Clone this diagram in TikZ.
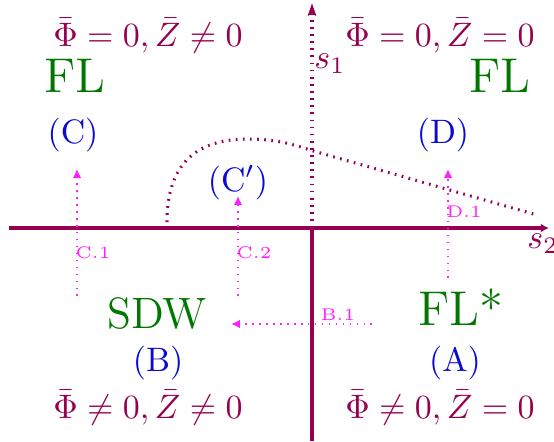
\documentclass[tikz,border=0pt]{standalone}
\usetikzlibrary{arrows.meta}
\definecolor{axiscol}{RGB}{150,0,80}
\definecolor{flgreen}{RGB}{0,120,0}
\definecolor{lblue}{RGB}{10,10,210}
\definecolor{pmag}{RGB}{255,30,255}
\tikzset{
  axisline/.style={draw=axiscol, line width=1.2pt},
  axisdot/.style={draw=axiscol, line width=0.9pt, dash pattern=on 0.5pt off 1.6pt},
  patharrow/.style={draw=pmag, line width=0.75pt, dash pattern=on 0.45pt off 1.6pt, -{Latex[length=2.6pt,width=2.5pt]}},
  phase/.style={text=axiscol, anchor=base, inner sep=0pt},
  bigname/.style={text=flgreen, font=\Large, anchor=base, inner sep=0pt},
  region/.style={text=lblue, anchor=base, inner sep=0pt},
  plabel/.style={text=pmag, font=\tiny, anchor=base, inner sep=0pt},
  axlabel/.style={text=axiscol, anchor=base, inner sep=0pt}
}
\begin{document}
\begin{tikzpicture}[x=0.295pt,y=-0.295pt]
\useasboundingbox (0,0) rectangle (554,441);
% axes
\coordinate (O) at (312,228);
\coordinate (xl) at (9,228);
\coordinate (xr) at (549,228);
\coordinate (yb) at (312,441);
\coordinate (yt) at (312,5);
\draw[axisline, -{Latex[length=2.4pt,width=2.6pt]}] (xl) -- (xr);
\draw[axisline] (O) -- (yb);
\draw[axisdot, line cap=butt] (O) -- (312,14);
\draw[axiscol, fill=axiscol, line width=0.3pt] (yt) -- (315.5,15) -- (312,13) -- (308.5,15) -- cycle;
\node[axlabel] (s1) at (330,68) {$s_1$};
\node[axlabel] (s2) at (543,248) {$s_2$};
% dotted boundary curve
\coordinate (c0) at (167,222);
\coordinate (cpk) at (248,139);
\coordinate (cm) at (310,150);
\coordinate (c1) at (537,215);
\draw[axisdot] (c0) .. controls (167,165) and (195,139) .. (cpk)
  .. controls (275,139) and (292,144) .. (cm) -- (c1);
% phase labels
\node[phase] (tl) at (148,46) {$\bar\Phi=0,\bar Z\neq 0$};
\node[phase] (tr) at (440,46) {$\bar\Phi=0,\bar Z=0$};
\node[phase] (bl) at (148,418) {$\bar\Phi\neq 0,\bar Z\neq 0$};
\node[phase] (br) at (440,418) {$\bar\Phi\neq 0,\bar Z=0$};
% names
\node[bigname] (fll) at (75,92) {FL};
\node[bigname] (flr) at (500,92) {FL};
\node[bigname] (sdw) at (157,328) {\scalebox{0.9}{SDW}};
\node[bigname] (fls) at (461,325) {FL*};
% regions
\node[region] (C) at (73,143) {(C)};
\node[region] (D) at (443,143) {(D)};
\node[region] (Cp) at (238,191) {(C$'$)};
\node[region] (B) at (158,371) {(B)};
\node[region] (A) at (455,371) {(A)};
% paths
\coordinate (c1s) at (77,296);
\coordinate (c1e) at (77,169);
\coordinate (c2s) at (238,296);
\coordinate (c2e) at (238,196);
\coordinate (d1s) at (448,278);
\coordinate (d1e) at (448,169);
\coordinate (b1s) at (372,324);
\coordinate (b1e) at (231,324);
\draw[patharrow] (c1s) -- (c1e);
\draw[patharrow] (c2s) -- (c2e);
\draw[patharrow] (d1s) -- (d1e);
\draw[patharrow] (b1s) -- (b1e);
\node[plabel] (lc1) at (93,258) {C.1};
\node[plabel] (lc2) at (254,258) {C.2};
\node[plabel] (ld1) at (464,217) {D.1};
\node[plabel] (lb1) at (338,320) {B.1};
\end{tikzpicture}
\end{document}
